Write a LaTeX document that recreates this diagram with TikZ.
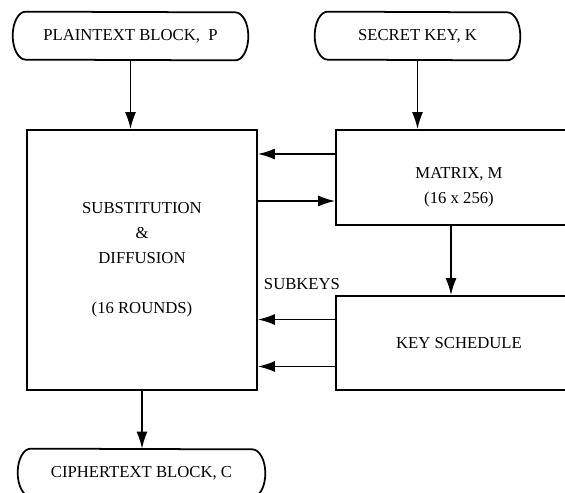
\documentclass[tikz,border=0pt]{standalone}
\usepackage{fontspec}
\setmainfont{Liberation Serif}
\usetikzlibrary{arrows.meta}

% oval end box drawn round a named node
\newcommand{\capsule}[1]{%
	\draw[line width=1pt] ([xshift=0.26cm]#1.north west)
		arc[start angle=90, end angle=270, x radius=0.26cm, y radius=0.48cm]
		-- ([xshift=-0.26cm]#1.south east)
		arc[start angle=-90, end angle=90, x radius=0.26cm, y radius=0.48cm]
		-- cycle;}

\begin{document}
\begin{tikzpicture}[x=0.02cm, y=-0.02cm,
	every node/.style={font=\fontsize{9.5}{14.2}\selectfont},
	box/.style={draw, line width=1pt, inner sep=0pt, align=center},
	rbox/.style={inner sep=0pt, minimum height=0.96cm},
	line/.style={-{Latex[length=3.4mm,width=2.2mm]}, line width=1pt}]

	\useasboundingbox (0,0) rectangle (565,493);
	\clip (0,0) rectangle (565,493);

	% inputs and output
	\node[rbox, minimum width=4.7cm] (plain) at (130.5,36) {PLAINTEXT BLOCK,~~P};
	\node[rbox, minimum width=4.1cm] (key) at (417.5,36) {SECRET KEY, K};
	\node[rbox, minimum width=4.94cm] (cipher) at (141.5,473) {CIPHERTEXT BLOCK, C};
	\capsule{plain}
	\capsule{key}
	\capsule{cipher}

	% main blocks
	\node[box, minimum width=4.6cm, minimum height=5.2cm] (sub) at (142,260)
		{SUBSTITUTION\\ \&\\ DIFFUSION\\[14.2pt] (16 ROUNDS)};
	\node[box, minimum width=4.92cm, minimum height=1.9cm,
		label={[align=center, yshift=-0.2cm]center:MATRIX, M\\ (16 x 256)}] (matrix) at (459,177.5) {};
	\node[box, minimum width=4.92cm, minimum height=1.88cm] (ksched) at (459,343)
		{KEY SCHEDULE};

	\node (subkeys) at (302,284) {SUBKEYS};

	\coordinate (m1) at ([yshift=0.47cm]matrix.west);
	\coordinate (m2) at ([yshift=-0.47cm]matrix.west);
	\coordinate (k1) at ([yshift=0.47cm]ksched.west);
	\coordinate (k2) at ([yshift=-0.47cm]ksched.west);
	\coordinate (mk) at ([xshift=-0.16cm]matrix.south);

	\draw[line] (plain.south) -- (plain.south |- sub.north);
	\draw[line] (key.south) -- (key.south |- matrix.north);
	\draw[line] (m1) -- (m1 -| sub.east);
	\draw[line] (m2 -| sub.east) -- (m2);
	\draw[line] (mk) -- (mk |- ksched.north);
	\draw[line] (k1) -- (k1 -| sub.east);
	\draw[line] (k2) -- (k2 -| sub.east);
	\draw[line] (sub.south) -- (sub.south |- cipher.north);

\end{tikzpicture}
\end{document}
